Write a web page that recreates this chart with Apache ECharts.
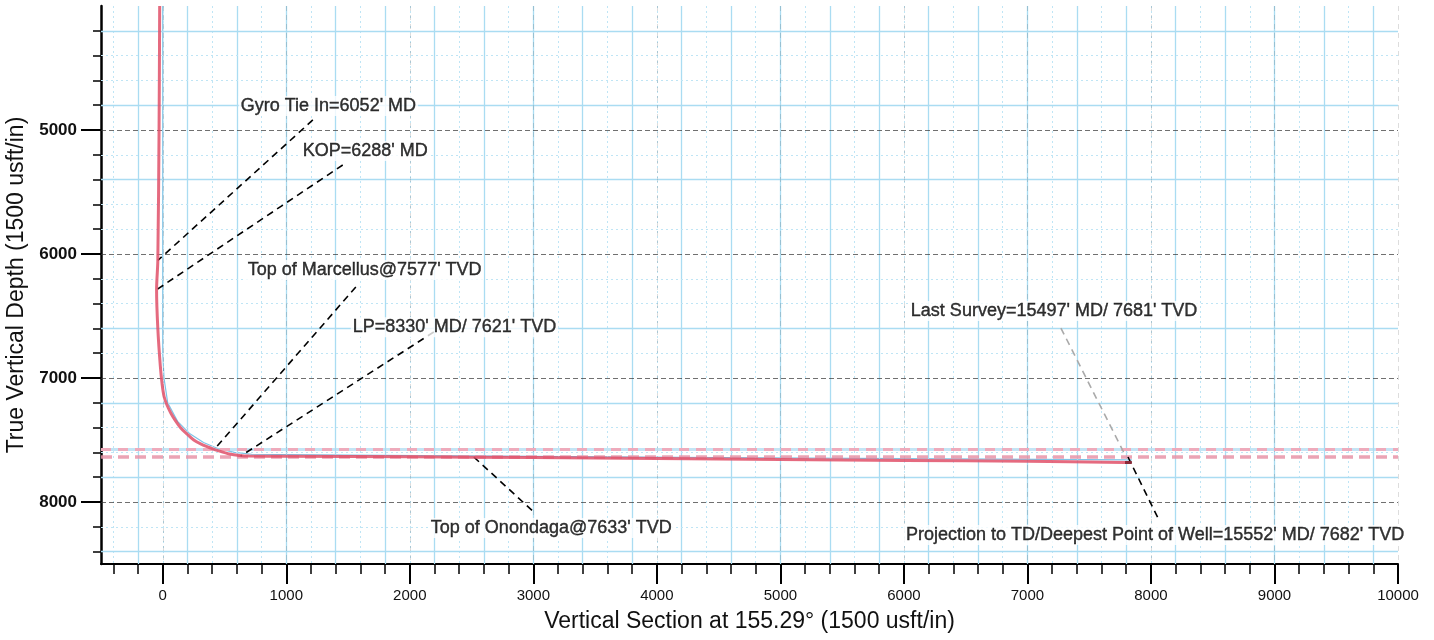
<!DOCTYPE html>
<html><head><meta charset="utf-8">
<script src="https://cdn.jsdelivr.net/npm/echarts@6/dist/echarts.min.js"></script>
<style>html,body{margin:0;padding:0;background:#fff}#c{width:1434px;height:640px}</style>
</head><body><div id="c"></div>
<script>
// ---- data (Vertical Section ft, True Vertical Depth ft) ----
const actualVS  = [-25, -30, -40, -50, -40, -20, -5, 11, 35, 65, 100, 146, 195, 251, 315, 389, 460, 540, 620, 700, 1000, 2000, 3000, 4000, 5000, 6000, 7000, 7790];
const actualTVD = [4000, 5000, 6052, 6288, 6600, 6900, 7050, 7151, 7220, 7282, 7340, 7403, 7450, 7500, 7535, 7565, 7590, 7613, 7625, 7630, 7631, 7636, 7642, 7650, 7658, 7665, 7672, 7681];
const projVS  = [7790, 7845];
const projTVD = [7681, 7682];
const planVS  = [0, 0, 0, 10, 40, 120, 220, 330, 450, 580, 720, 1500, 3000, 4500, 6000, 7845];
const planTVD = [4000, 6288, 6800, 7000, 7200, 7350, 7450, 7520, 7570, 7600, 7615, 7622, 7632, 7641, 7650, 7660];
const formationName = ["Top of Marcellus", "Top of Onondaga"];
const formationTVD  = [7577, 7633];

const annoText = [
  "Gyro Tie In=6052' MD",
  "KOP=6288' MD",
  "Top of Marcellus@7577' TVD",
  "LP=8330' MD/ 7621' TVD",
  "Top of Onondaga@7633' TVD",
  "Last Survey=15497' MD/ 7681' TVD",
  "Projection to TD/Deepest Point of Well=15552' MD/ 7682' TVD"
];
const annoTextVS   = [615, 1117, 672, 1522, 2154, 6040, 6000];
const annoTextTVD  = [4806, 5169, 6129, 6590, 8210, 6460, 8266];
const annoFromVS   = [1215, 1457, 1563, 2194, 2518, 7271, 7814];
const annoFromTVD  = [4919, 5282, 6266, 6629, 7637, 6597, 7637];
const annoToVS     = [-40, -50, 413, 630, 3004, 7780, 8065];
const annoToTVD    = [6052, 6288, 7581, 7630, 8081, 7600, 8145];

const xMajorTicks = [0, 1000, 2000, 3000, 4000, 5000, 6000, 7000, 8000, 9000, 10000];
const yMajorTicks = [5000, 6000, 7000, 8000];
const xMin = -500, xMax = 10000, yMin = 4000, yMax = 8500;

// ---- decoration helpers ----
const xMinorTicks = [];
for (let v = -400; v <= 10000; v += 200) if (v % 1000 !== 0) xMinorTicks.push(v);
const yMinorTicks = [];
for (let v = 4200; v <= 8400; v += 200) if (v % 1000 !== 0) yMinorTicks.push(v);

const SOLID = {color: '#aadcf2', width: 1.3, type: 'solid'};
const DOT = {color: '#bfe5f5', width: 1, type: [2, 3]};
const paperLines = [];
for (let v = -400; v <= 9800; v += 200) {
  paperLines.push({xAxis: v, lineStyle: ((v + 200) % 400 === 0) ? SOLID : DOT});
}
for (let v = 4200; v <= 8400; v += 200) {
  if (v % 1000 === 0) continue;
  paperLines.push({yAxis: v, lineStyle: ((v - 4200) % 600 === 0) ? SOLID : DOT});
}
const majorGridLines = [];
yMajorTicks.forEach(v => majorGridLines.push({yAxis: v, lineStyle: {color: '#333', width: 1, type: [5, 3], opacity: 0.7}}));
xMajorTicks.forEach(v => majorGridLines.push({xAxis: v, lineStyle: {color: '#444', width: 1, type: [5, 4], opacity: 0.18}}));

const FONT = '"Liberation Sans", Arial, sans-serif';
const zip = (a, b) => a.map((v, i) => [v, b[i]]);
const plain = v => String(v);

const annoLines = annoText.map((t, i) => [
  {coord: [annoFromVS[i], annoFromTVD[i]]},
  {coord: [annoToVS[i], annoToTVD[i]]}
]);
const annoLabels = annoText.map((t, i) => ({value: [annoTextVS[i], annoTextTVD[i]], name: t}));

const chart = echarts.init(document.getElementById('c'), null, {renderer: 'canvas'});
const baseX = {type: 'value', min: xMin, max: xMax, position: 'bottom'};
const baseY = {type: 'value', min: yMin, max: yMax, inverse: true, position: 'left'};
chart.setOption({
  animation: false,
  backgroundColor: '#fff',
  grid: {left: 101, right: 36, top: 6, bottom: 76, containLabel: false, outerBoundsMode: 'none'},
  xAxis: [
    Object.assign({}, baseX, {
      name: 'Vertical Section at 155.29° (1500 usft/in)',
      nameLocation: 'middle', nameGap: 46,
      nameTextStyle: {fontFamily: FONT, fontSize: 23, color: '#111'},
      axisLine: {show: true, onZero: false, lineStyle: {color: '#000', width: 2}},
      axisTick: {show: true, length: 20, customValues: xMajorTicks, lineStyle: {color: '#000', width: 2}},
      axisLabel: {show: true, customValues: xMajorTicks, formatter: plain, margin: 24, fontFamily: FONT, fontSize: 15, color: '#111'},
      splitLine: {show: false}
    }),
    Object.assign({}, baseX, {
      axisLine: {show: false, onZero: false},
      axisTick: {show: true, length: 10, customValues: xMinorTicks, lineStyle: {color: '#000', width: 1.5}},
      axisLabel: {show: false},
      splitLine: {show: false}
    })
  ],
  yAxis: [
    Object.assign({}, baseY, {
      name: 'True Vertical Depth (1500 usft/in)',
      nameLocation: 'middle', nameGap: 63, nameRotate: 90,
      nameTextStyle: {fontFamily: FONT, fontSize: 23, color: '#111'},
      axisLine: {show: true, onZero: false, lineStyle: {color: '#000', width: 2.5}},
      axisTick: {show: true, length: 20, customValues: yMajorTicks, lineStyle: {color: '#000', width: 2}},
      axisLabel: {show: true, customValues: yMajorTicks, formatter: plain, margin: 24, fontFamily: FONT, fontSize: 17, fontWeight: 'bold', color: '#111'},
      splitLine: {show: false}
    }),
    Object.assign({}, baseY, {
      axisLine: {show: false, onZero: false},
      axisTick: {show: true, length: 8, customValues: yMinorTicks, lineStyle: {color: '#000', width: 1.5}},
      axisLabel: {show: false},
      splitLine: {show: false}
    })
  ],
  series: [
    {
      type: 'line', data: [], silent: true, z: 1,
      markLine: {silent: true, symbol: 'none', label: {show: false}, animation: false, data: paperLines}
    },
    {
      type: 'line', data: [], silent: true, z: 2,
      markLine: {silent: true, symbol: 'none', label: {show: false}, animation: false, data: majorGridLines}
    },
    {
      type: 'line', data: [], silent: true, z: 3,
      markLine: {silent: true, symbol: 'none', label: {show: false}, animation: false,
        data: [
          {name: formationName[0], yAxis: formationTVD[0], lineStyle: {color: '#a9d8f0', width: 3, type: 'solid', opacity: 0.7}},
          {name: formationName[0], yAxis: formationTVD[0], lineStyle: {color: '#eeaabb', width: 3, type: [10, 7]}},
          {name: formationName[1], yAxis: formationTVD[1], lineStyle: {color: '#e794a8', width: 3.5, type: [11, 6], opacity: 0.85}}
        ]}
    },
    {
      name: 'Plan', type: 'line', data: zip(planVS, planTVD), showSymbol: false, silent: true, z: 4,
      lineStyle: {color: '#7ec3e6', width: 1.2}
    },
    {
      name: 'Actual', type: 'line', data: zip(actualVS, actualTVD), showSymbol: false, silent: true, z: 5,
      smooth: 0.3,
      lineStyle: {color: '#e05069', width: 3, opacity: 0.85}
    },
    {
      name: 'Projection', type: 'line', data: zip(projVS, projTVD), showSymbol: false, silent: true, z: 5,
      lineStyle: {color: '#8a2a38', width: 3}
    },
    {
      type: 'line', data: [], silent: true, z: 6,
      markLine: {silent: true, symbol: 'none', label: {show: false}, animation: false,
        lineStyle: {color: '#000', width: 1.6, type: [7, 5]},
        data: annoLines.map((l, i) => i === 5 ? [Object.assign({}, l[0], {lineStyle: {color: '#aaa', width: 1.6, type: [7, 5]}}), l[1]] : l)}
    },
    {
      type: 'scatter', data: annoLabels, symbolSize: 0, silent: true, z: 7,
      label: {show: true, position: 'right', distance: 0, formatter: p => p.name,
        fontFamily: FONT, fontSize: 18, color: '#000', textBorderColor: '#000', textBorderWidth: 0.4,
        backgroundColor: '#fff', padding: [1, 2]}
    }
  ]
});
</script></body></html>
